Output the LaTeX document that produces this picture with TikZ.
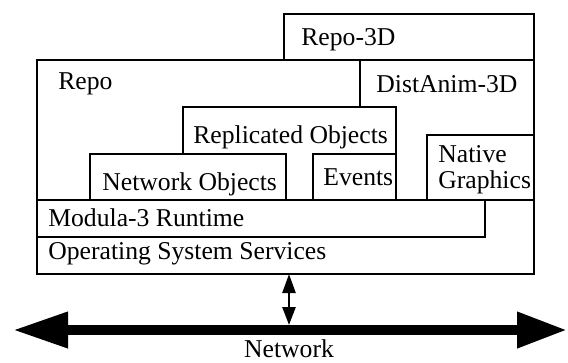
\documentclass[tikz,border=0pt]{standalone}
\usepackage{fontspec}
\setmainfont{Liberation Serif}
\usetikzlibrary{arrows.meta}

\begin{document}
\begin{tikzpicture}[x=2mm,y=-2mm,
		layer/.style={draw,line width=1.6pt,fill=white},
		lbl/.style={anchor=base west,inner sep=0pt,font=\fontsize{14.6pt}{15.6pt}\selectfont}]
			\useasboundingbox (0,0) rectangle (56.8,36.2);

			% the layers, back to front
			\draw[layer] (28.4,1.4) rectangle (53.4,6.0);
			\draw[layer] (3.7,6.0) rectangle (53.4,27.4);
			\draw[layer] (36.0,6.0) rectangle (53.4,20.0);
			\draw[layer] (18.3,10.7) rectangle (39.6,20.0);
			\draw[layer] (9.0,15.4) rectangle (28.6,20.0);
			\draw[layer] (31.3,15.4) rectangle (39.6,20.0);
			\draw[layer] (42.7,13.5) rectangle (53.4,20.0);
			\draw[layer] (3.7,20.0) rectangle (53.4,27.4);
			\draw[layer] (3.7,20.0) rectangle (48.5,23.7);

			\node[lbl] (repo3d) at (30.1,4.5) {Repo-3D};
			\node[lbl] (repo) at (5.8,8.9) {Repo};
			\node[lbl] (distanim) at (37.6,9.2) {DistAnim-3D};
			\node[lbl] (replicated) at (19.3,14.3) {Replicated Objects};
			\node[lbl] (netobj) at (10.2,19.0) {Network Objects};
			\node[lbl] (events) at (32.3,18.5) {Events};
			\node[lbl] (native) at (43.8,16.2) {Native};
			\node[lbl] (graphics) at (43.8,18.8) {Graphics};
			\node[lbl] (modula) at (4.8,22.6) {Modula-3 Runtime};
			\node[lbl] (ossvc) at (4.8,25.9) {Operating System Services};

			% network bar
			\coordinate (netL) at (1.3,33.0);
			\coordinate (netR) at (56.7,33.0);
			\draw[line width=2mm,{Triangle[length=11mm,width=6.8mm]}-{Triangle[length=10mm,width=6.8mm]}] (netL) -- (netR);
			\node[lbl,anchor=base] (network) at (28.9,35.7) {Network};

			\coordinate (hostlink) at (28.9,27.4);
			\coordinate (netlink) at (28.9,32.5);
			\draw[line width=1.4pt,{Triangle[length=3.8mm,width=2.6mm]}-{Triangle[length=3.6mm,width=2.6mm]}] (hostlink) -- (netlink);
		\end{tikzpicture}
\end{document}
